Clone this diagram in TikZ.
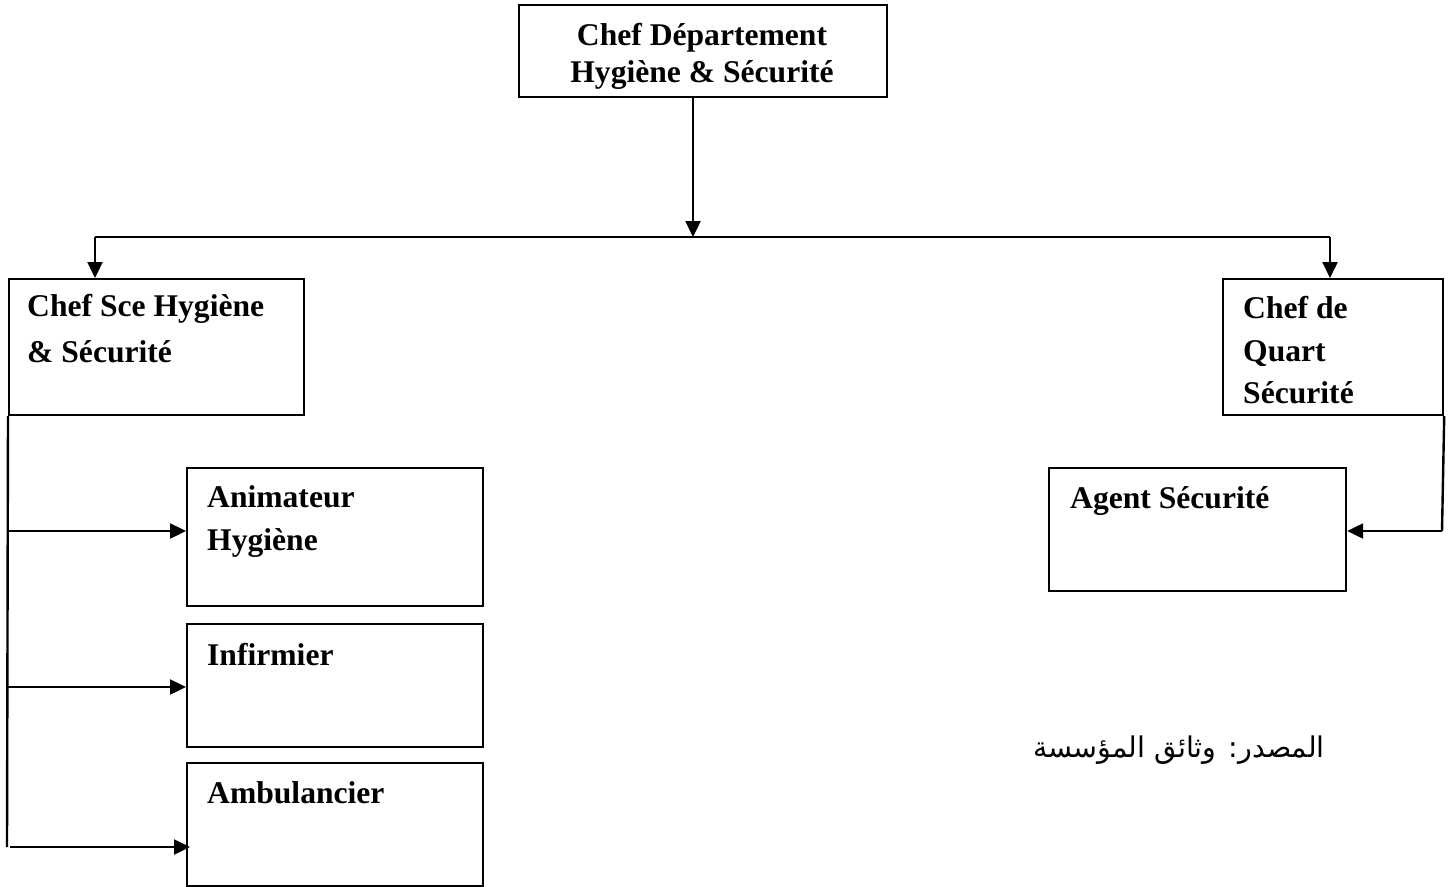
\documentclass[tikz,border=0pt]{standalone}
\usepackage{fontspec}
\setmainfont{Liberation Serif}
\newfontfamily\arabicfont[Script=Arabic]{DejaVu Sans}
\TeXXeTstate=1
\usetikzlibrary{arrows.meta}
\begin{document}
\begin{tikzpicture}[x=1pt,y=-1pt,
  box/.style={draw, line width=2.2pt, inner sep=0pt, anchor=north west},
  lbl/.style={anchor=base west, inner sep=0pt, font=\fontsize{31.6}{38}\selectfont\bfseries},
  clbl/.style={lbl, anchor=base},
  arr/.style={line width=2.4pt, -{Triangle[length=16pt,width=15pt]}},
  ln/.style={line width=2.4pt}]
\useasboundingbox (0,0) rectangle (1453,886);
% boxes
\node[box, minimum width=368pt, minimum height=92pt] (top) at (518,4) {};
\node[box, minimum width=295pt, minimum height=136pt] (sce) at (8,278) {};
\node[box, minimum width=220pt, minimum height=136pt] (quart) at (1222,278) {};
\node[box, minimum width=296pt, minimum height=138pt] (anim) at (186,467) {};
\node[box, minimum width=296pt, minimum height=123pt] (inf) at (186,623) {};
\node[box, minimum width=296pt, minimum height=123pt] (amb) at (186,762) {};
\node[box, minimum width=297pt, minimum height=123pt] (agent) at (1048,467) {};
% labels
\node[clbl] (t1) at (702,45) {Chef Département};
\node[clbl] (t2) at (702,82) {Hygiène \& Sécurité};
\node[lbl] (s1) at (27,316) {Chef Sce Hygiène};
\node[lbl] (s2) at (27,362) {\& Sécurité};
\node[lbl] (q1) at (1243,318) {Chef de};
\node[lbl] (q2) at (1243,361) {Quart};
\node[lbl] (q3) at (1243,403) {Sécurité};
\node[lbl] (a1) at (207,507) {Animateur};
\node[lbl] (a2) at (207,550) {Hygiène};
\node[lbl] (i1) at (207,665) {Infirmier};
\node[lbl] (b1) at (207,803) {Ambulancier};
\node[lbl] (g1) at (1070,508) {Agent Sécurité};
\node[anchor=base east, inner sep=0pt, font=\fontsize{28.5}{32}\selectfont] (src) at (1325,757) {\arabicfont\beginR المصدر: وثائق المؤسسة\endR};
% connectors
\coordinate (j) at (693,237);
\coordinate (jl) at (95,237);
\coordinate (jr) at (1330,237);
\draw[arr] (j |- top.south) -- (j);
\draw[ln] (jl) -- (jr);
\draw[arr] (jl) -- (jl |- sce.north);
\draw[arr] (jr) -- (jr |- quart.north);
\coordinate (bus) at (7,847);
\draw[ln] (sce.south west) -- (bus);
\coordinate (c1) at (7,531);
\coordinate (c2) at (7,687);
\coordinate (c3) at (10,847);
\draw[arr] (c1) -- (c1 -| anim.west);
\draw[arr] (c2) -- (c2 -| inf.west);
\draw[arr] (c3) -- ([xshift=4pt]c3 -| amb.west);
\coordinate (c4) at (1442,531);
\draw[ln] (quart.south east) -- (c4);
\draw[arr] (c4) -- (c4 -| agent.east);
\end{tikzpicture}
\end{document}
